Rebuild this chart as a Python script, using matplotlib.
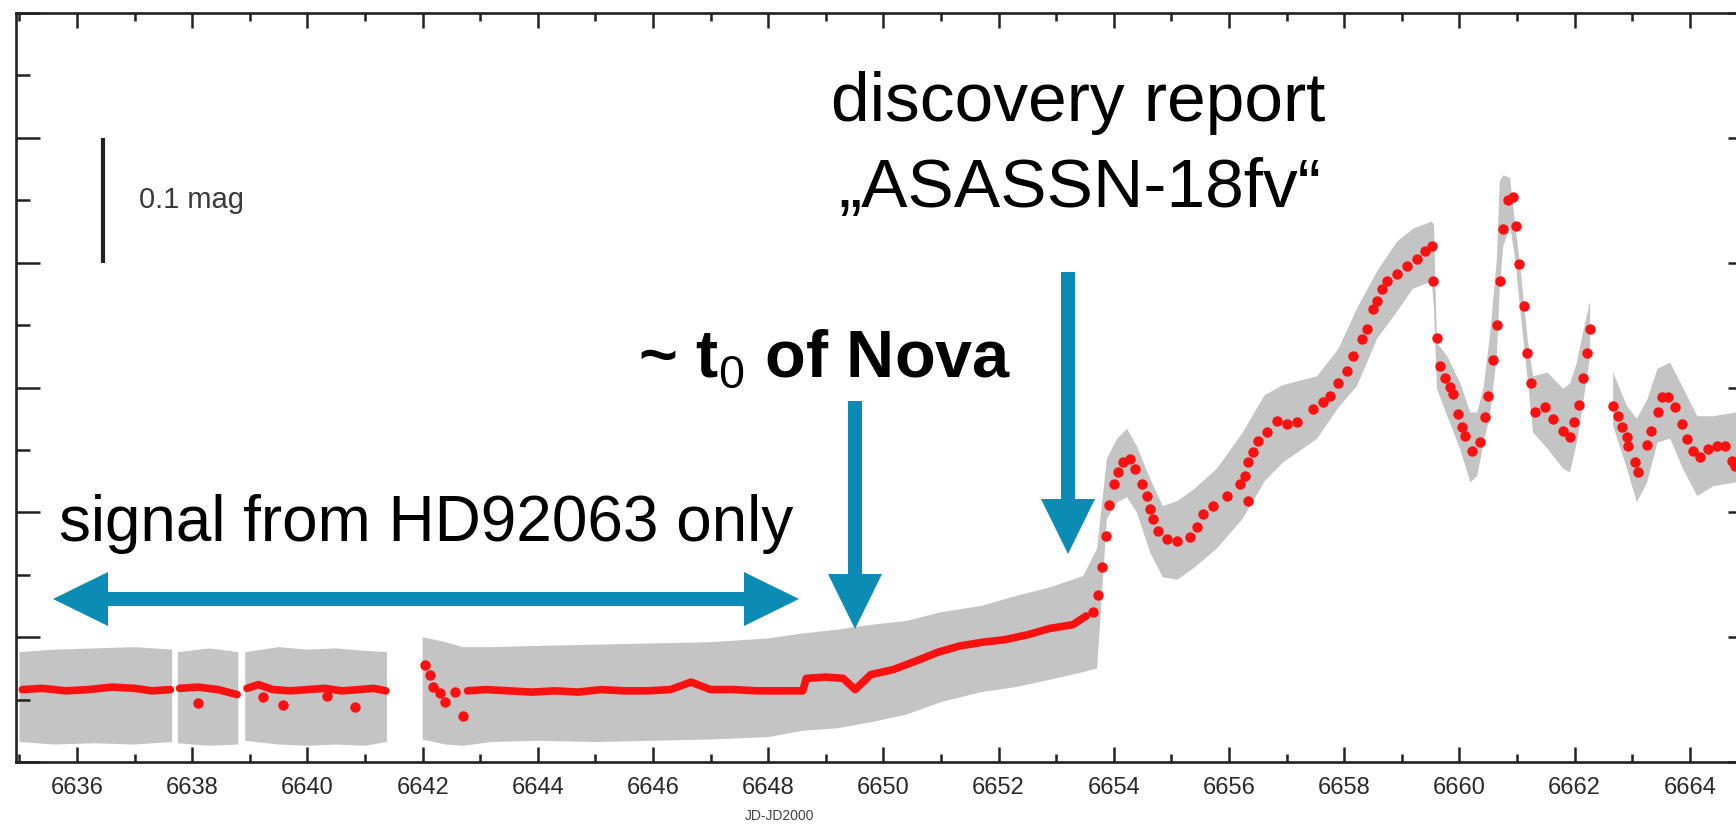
import numpy as np
import matplotlib
matplotlib.use('Agg')
import matplotlib.pyplot as plt
from matplotlib.patches import FancyArrow
from matplotlib.ticker import MultipleLocator

# ==========================================
# Data (JD-JD2000 / relative mag)
# ==========================================
nan = np.nan

# grey cloud of single measurements: upper/lower envelope (NaN = gap)
gray_day = [6635.0, 6635.6, 6636.3, 6637.0, 6637.65, nan,
            6637.75, 6638.3, 6638.8, nan,
            6638.92, 6639.5, 6640.0, 6640.5, 6641.0, 6641.38, nan,
            6642.0, 6642.4, 6642.7, 6643.2, 6644.0, 6645.0, 6646.0, 6647.0, 6648.0,
            6648.6, 6649.2, 6649.8, 6650.4, 6651.0, 6651.7, 6652.3, 6652.9, 6653.47,
            6653.71, 6653.88, 6654.06, 6654.23, 6654.40, 6654.63, 6654.85, 6655.10,
            6655.38, 6655.79, 6656.24, 6656.62, 6656.94, 6657.53, 6657.90, 6658.22,
            6658.57, 6658.92, 6659.19, 6659.52, 6659.56, 6659.61, 6659.79, 6660.01,
            6660.19, 6660.31, 6660.42, 6660.53, 6660.65, 6660.70, 6660.76, 6660.88,
            6660.97, 6661.05, 6661.19, 6661.28, 6661.53, 6661.80, 6661.92, 6662.04,
            6662.15, 6662.27, nan,
            6662.67, 6662.91, 6663.08, 6663.26, 6663.44, 6663.66, 6663.88, 6664.13,
            6664.41, 6664.81, 6665.1]
gray_top = [0.012, 0.010, 0.009, 0.008, 0.010, nan,
            0.012, 0.009, 0.012, nan,
            0.012, 0.008, 0.010, 0.009, 0.011, 0.012, nan,
            0.000, 0.004, 0.008, 0.008, 0.007, 0.006, 0.005, 0.004, 0.001,
            -0.003, -0.006, -0.010, -0.013, -0.020, -0.025, -0.033, -0.040, -0.049,
            -0.071, -0.143, -0.159, -0.167, -0.153, -0.127, -0.105, -0.109,
            -0.118, -0.135, -0.164, -0.194, -0.202, -0.209, -0.231, -0.263,
            -0.293, -0.317, -0.327, -0.333, -0.330, -0.236, -0.225, -0.204,
            -0.180, -0.180, -0.200, -0.241, -0.303, -0.365, -0.370, -0.368,
            -0.330, -0.300, -0.237, -0.209, -0.212, -0.199, -0.203, -0.220,
            -0.245, -0.269, nan,
            -0.212, -0.185, -0.175, -0.190, -0.215, -0.220, -0.200, -0.177,
            -0.177, -0.180, -0.182]
gray_bot = [0.084, 0.086, 0.085, 0.086, 0.084, nan,
            0.085, 0.087, 0.086, nan,
            0.083, 0.086, 0.087, 0.086, 0.087, 0.084, nan,
            0.082, 0.086, 0.087, 0.084, 0.083, 0.084, 0.083, 0.082, 0.080,
            0.075, 0.073, 0.068, 0.062, 0.052, 0.044, 0.040, 0.034, 0.028,
            0.025, -0.095, -0.108, -0.112, -0.100, -0.068, -0.048, -0.046,
            -0.055, -0.071, -0.095, -0.125, -0.140, -0.159, -0.184, -0.201,
            -0.239, -0.261, -0.279, -0.285, -0.262, -0.199, -0.177, -0.151,
            -0.124, -0.129, -0.156, -0.177, -0.225, -0.279, -0.313, -0.329,
            -0.303, -0.265, -0.204, -0.164, -0.151, -0.135, -0.132, -0.156,
            -0.188, -0.225, nan,
            -0.169, -0.135, -0.108, -0.124, -0.156, -0.159, -0.135, -0.113,
            -0.121, -0.124, -0.126]

# binned means, densely sampled part (drawn as a thick line)
mean_day = [6635.05, 6635.4, 6635.8, 6636.2, 6636.6, 6637.0, 6637.3, 6637.62, nan,
            6637.78, 6638.1, 6638.45, 6638.78, nan,
            6638.95, 6639.15, 6639.4, 6639.7, 6640.0, 6640.3, 6640.6, 6640.9, 6641.15, 6641.36, nan,
            6642.78, 6643.1, 6643.5, 6643.9, 6644.3, 6644.7, 6645.1, 6645.5, 6645.9, 6646.3,
            6646.66, 6647.0, 6647.4, 6647.8, 6648.2, 6648.6, 6648.66, 6649.0, 6649.3, 6649.51,
            6649.78, 6650.17, 6650.57, 6650.95, 6651.33, 6651.73, 6652.11, 6652.51, 6652.89,
            6653.29, 6653.52]
mean_mag = [0.042, 0.041, 0.043, 0.042, 0.040, 0.041, 0.043, 0.042, nan,
            0.041, 0.040, 0.042, 0.046, nan,
            0.041, 0.038, 0.042, 0.043, 0.042, 0.041, 0.043, 0.042, 0.041, 0.043, nan,
            0.043, 0.042, 0.043, 0.044, 0.043, 0.044, 0.042, 0.043, 0.043, 0.042,
            0.036, 0.042, 0.042, 0.043, 0.043, 0.043, 0.033, 0.032, 0.033, 0.042,
            0.030, 0.026, 0.019, 0.012, 0.007, 0.004, 0.002, -0.002, -0.007,
            -0.010, -0.017]

# binned means, sparse part and outliers (drawn as dots)
dot_day = [6638.10, 6639.23, 6639.58, 6640.34, 6640.83,
           6642.04, 6642.12, 6642.18, 6642.30, 6642.39, 6642.56, 6642.70,
           6653.64, 6653.73, 6653.80, 6653.86, 6653.92, 6654.00, 6654.07, 6654.16,
           6654.28, 6654.37, 6654.49, 6654.58, 6654.63, 6654.68, 6654.77, 6654.92,
           6655.10, 6655.32, 6655.44, 6655.55, 6655.72, 6655.97, 6656.19, 6656.28,
           6656.33, 6656.33, 6656.42, 6656.50, 6656.66, 6656.83, 6657.00, 6657.18,
           6657.46, 6657.63, 6657.75, 6657.89, 6658.05, 6658.15, 6658.31, 6658.40,
           6658.50, 6658.57, 6658.66, 6658.74, 6658.92, 6659.09, 6659.26, 6659.40,
           6659.52, 6659.54, 6659.61, 6659.66, 6659.75, 6659.84, 6659.89, 6659.98,
           6660.05, 6660.10, 6660.22, 6660.36, 6660.44, 6660.50, 6660.58, 6660.65,
           6660.70, 6660.76, 6660.84, 6660.93, 6660.98, 6661.03, 6661.12, 6661.17,
           6661.24, 6661.31, 6661.49, 6661.63, 6661.80, 6661.92, 6661.99, 6662.08,
           6662.15, 6662.22, 6662.27, 6662.67, 6662.75, 6662.82, 6662.91, 6662.93,
           6663.05, 6663.10, 6663.26, 6663.33, 6663.44, 6663.52, 6663.63, 6663.75,
           6663.87, 6663.96, 6664.06, 6664.18, 6664.32, 6664.48, 6664.61, 6664.74,
           6664.79]
dot_mag = [0.053, 0.048, 0.054, 0.047, 0.056,
           0.022, 0.030, 0.040, 0.045, 0.052, 0.044, 0.063,
           -0.020, -0.034, -0.056, -0.081, -0.106, -0.123, -0.132, -0.140,
           -0.143, -0.135, -0.123, -0.113, -0.103, -0.095, -0.085, -0.079,
           -0.077, -0.080, -0.088, -0.099, -0.105, -0.113, -0.123, -0.129,
           -0.140, -0.109, -0.148, -0.157, -0.164, -0.173, -0.171, -0.172,
           -0.183, -0.188, -0.193, -0.204, -0.213, -0.225, -0.239, -0.247,
           -0.263, -0.269, -0.279, -0.285, -0.291, -0.297, -0.303, -0.309,
           -0.313, -0.285, -0.240, -0.217, -0.208, -0.200, -0.195, -0.179,
           -0.168, -0.161, -0.149, -0.156, -0.176, -0.193, -0.222, -0.250,
           -0.285, -0.327, -0.350, -0.353, -0.329, -0.299, -0.265, -0.228,
           -0.204, -0.180, -0.184, -0.175, -0.165, -0.160, -0.172, -0.186,
           -0.208, -0.228, -0.247, -0.185, -0.177, -0.168, -0.160, -0.153,
           -0.140, -0.132, -0.154, -0.165, -0.180, -0.192, -0.192, -0.184,
           -0.171, -0.159, -0.149, -0.144, -0.151, -0.153, -0.153, -0.141,
           -0.137]

# 0.1 mag scale bar
bar_day = 6636.45
bar_mag = [-0.4, -0.3]

# ==========================================
# Figure
# ==========================================
plt.rcParams['font.family'] = ['Liberation Sans', 'DejaVu Sans']
plt.rcParams['mathtext.fontset'] = 'custom'
plt.rcParams['mathtext.rm'] = 'Liberation Sans'

W, H = 1736, 824
fig = plt.figure(figsize=(W / 100, H / 100), dpi=100)
ax = fig.add_axes([16 / W, 62 / H, 1736 / W, 749 / H])

axis_col = '#222222'
blue = '#0a8cb5'

ax.fill_between(gray_day, gray_top, gray_bot, color='#c4c4c4', lw=0, zorder=1)
ax.plot(mean_day, mean_mag, color='#ff1010', lw=5.5, solid_capstyle='round',
        solid_joinstyle='round', zorder=3)
ax.plot(dot_day, dot_mag, 'o', color='#ff1010', ms=7.5, mec='none', zorder=3)

ax.plot([bar_day, bar_day], bar_mag, color=axis_col, lw=3, solid_capstyle='butt')
ax.text(bar_day + 0.62, np.mean(bar_mag), '0.1 mag', fontsize=21, color='#3a3a3a',
        va='center', ha='left')

ax.set_xlim(6634.94, 6665.08)
ax.set_ylim(0.1, -0.5)

ax.xaxis.set_major_locator(MultipleLocator(2))
ax.xaxis.set_minor_locator(MultipleLocator(1))
ax.yaxis.set_major_locator(MultipleLocator(0.1))
ax.yaxis.set_minor_locator(MultipleLocator(0.05))
ax.tick_params(which='both', direction='in', top=True, right=True, color=axis_col,
               width=1.8)
ax.tick_params(axis='x', which='major', length=11, pad=11)
ax.tick_params(axis='x', which='minor', length=6)
ax.tick_params(axis='y', which='major', length=17)
ax.tick_params(axis='y', which='minor', length=10)
ax.tick_params(axis='y', labelleft=False)
for lab in ax.get_xticklabels():
    lab.set_fontsize(17)
    lab.set_color('#2a2a2a')
for sp in ax.spines.values():
    sp.set_linewidth(1.9)
    sp.set_color(axis_col)

ax.set_xlabel('JD-JD2000', fontsize=10, color='#444444')
ax.xaxis.set_label_coords((780 - 16) / 1736, -54 / 749)
ax.xaxis.label.set_va('center')

# ==========================================
# Annotation layer in pixel coordinates
# ==========================================
ov = fig.add_axes([0, 0, 1, 1], zorder=5)
ov.set_xlim(0, W)
ov.set_ylim(H, 0)
ov.axis('off')

arrow_kw = dict(width=14, head_width=54, head_length=55, length_includes_head=True,
                color=blue, lw=0)
ov.add_patch(FancyArrow(426, 599, -373, 0, **arrow_kw))
ov.add_patch(FancyArrow(426, 599, 373, 0, **arrow_kw))
ov.add_patch(FancyArrow(855, 401, 0, 228, **arrow_kw))
ov.add_patch(FancyArrow(1068, 272, 0, 282, **arrow_kw))

ov.text(1078, 121, 'discovery report', fontsize=50, ha='center', va='baseline')
ov.text(1080, 207, '\u201eASASSN-18fv\u201c', fontsize=50, ha='center', va='baseline')
ov.text(825, 377, r'~ t$_\mathrm{0}$ of Nova', fontsize=48, fontweight='bold',
        ha='center', va='baseline')
ov.text(426, 541, 'signal from HD92063 only', fontsize=46, ha='center', va='baseline')

fig.savefig('out.png', dpi=100)
